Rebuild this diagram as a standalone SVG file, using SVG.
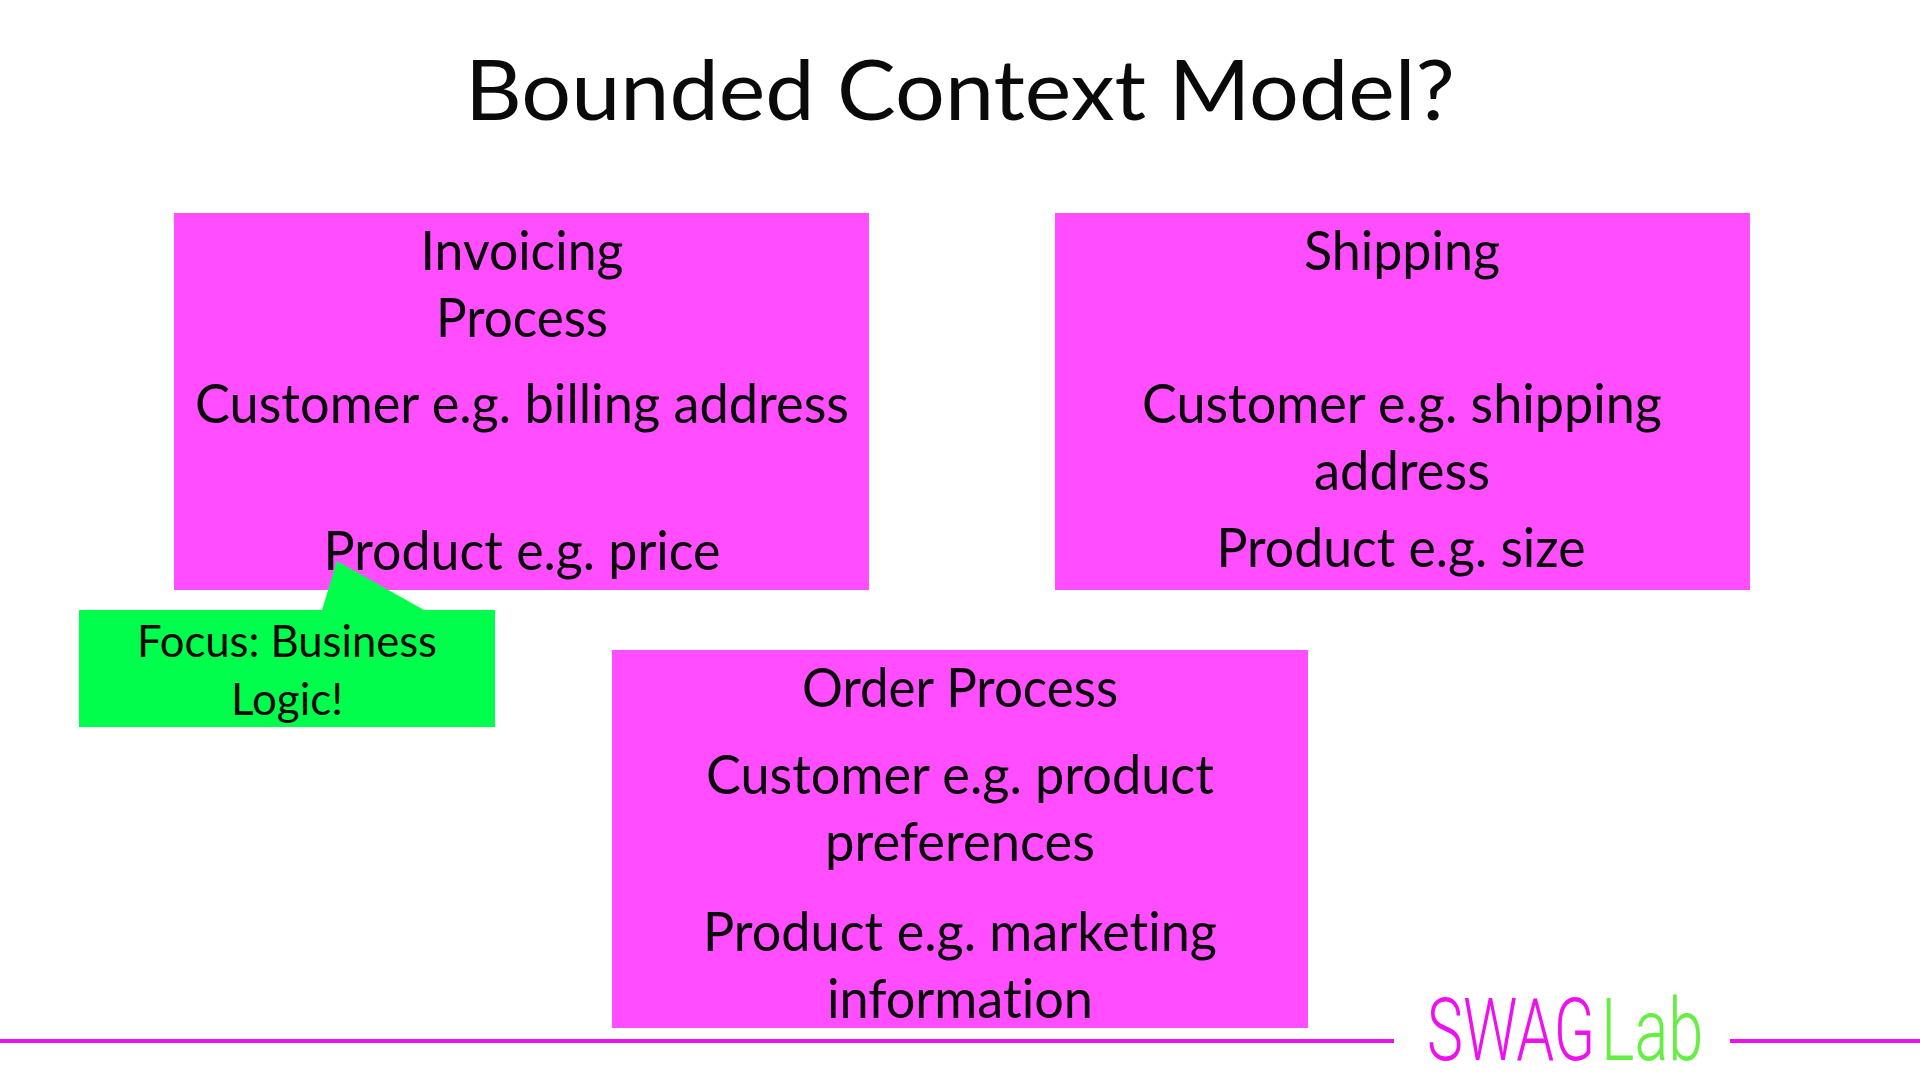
<svg xmlns="http://www.w3.org/2000/svg" width="1920" height="1080" viewBox="0 0 1920 1080">
<style>
text{font-family:"Lato","Carlito","Open Sans",sans-serif;fill:#0a0a0a;text-anchor:middle;font-variant-ligatures:none}
.t{font-size:54px}
.box{fill:#ff4dff}
.rule{fill:#ee11ee}
.logo{font-family:"Roboto","Liberation Sans",sans-serif;font-weight:300;font-size:88px;text-anchor:start}
</style>
<rect width="1920" height="1080" fill="#fff"/>
<text x="960" y="120" font-size="84" textLength="990" lengthAdjust="spacingAndGlyphs">Bounded Context Model?</text>
<g id="invoicing">
<rect class="box" x="174" y="213" width="695" height="377"/>
<text class="t" x="522" y="270" textLength="203" lengthAdjust="spacingAndGlyphs">Invoicing</text>
<text class="t" x="522" y="337" textLength="172" lengthAdjust="spacingAndGlyphs">Process</text>
<text class="t" x="522" y="423" textLength="654" lengthAdjust="spacingAndGlyphs">Customer e.g. billing address</text>
<text class="t" x="522" y="570" textLength="397" lengthAdjust="spacingAndGlyphs">Product e.g. price</text>
</g>
<g id="shipping">
<rect class="box" x="1055" y="213" width="695" height="377"/>
<text class="t" x="1402" y="270" textLength="196" lengthAdjust="spacingAndGlyphs">Shipping</text>
<text class="t" x="1402" y="423" textLength="520" lengthAdjust="spacingAndGlyphs">Customer e.g. shipping</text>
<text class="t" x="1402" y="490" textLength="176" lengthAdjust="spacingAndGlyphs">address</text>
<text class="t" x="1401" y="567" textLength="369" lengthAdjust="spacingAndGlyphs">Product e.g. size</text>
</g>
<g id="order">
<rect class="box" x="612" y="650" width="696" height="378"/>
<text class="t" x="960" y="707" textLength="316" lengthAdjust="spacingAndGlyphs">Order Process</text>
<text class="t" x="960" y="794" textLength="508" lengthAdjust="spacingAndGlyphs">Customer e.g. product</text>
<text class="t" x="960" y="861" textLength="270" lengthAdjust="spacingAndGlyphs">preferences</text>
<text class="t" x="960" y="951" textLength="514" lengthAdjust="spacingAndGlyphs">Product e.g. marketing</text>
<text class="t" x="960" y="1018" textLength="266" lengthAdjust="spacingAndGlyphs">information</text>
</g>
<g id="callout">
<path d="M79 610H322L337 561L424 610H495V727H79Z" fill="#00ff4d"/>
<text x="287" y="657" font-size="44" textLength="300" lengthAdjust="spacingAndGlyphs">Focus: Business</text>
<text x="287" y="715" font-size="44" textLength="112" lengthAdjust="spacingAndGlyphs">Logic!</text>
</g>
<g id="footer">
<rect class="rule" x="0" y="1039" width="1394" height="4"/>
<rect class="rule" x="1730" y="1039" width="190" height="4"/>
<text class="logo" transform="translate(1427 1060) scale(.69 1)" style="fill:#ee11ee">SWAG</text>
<text class="logo" transform="translate(1601 1060) scale(.72 1)" style="fill:#66ee44">Lab</text>
</g>
</svg>
